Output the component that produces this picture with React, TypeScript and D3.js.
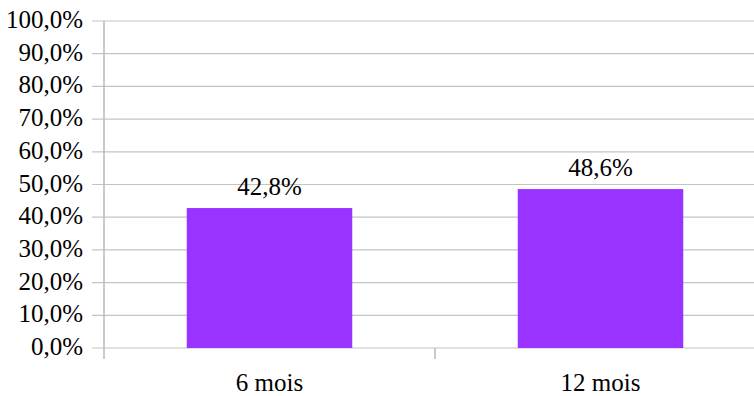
import * as d3 from "d3";
import { useEffect, useRef } from "react";

const categories = ["6 mois", "12 mois"];
const values = [42.8, 48.6];
const yTicks = [0, 10, 20, 30, 40, 50, 60, 70, 80, 90, 100];

const W = 754;
const H = 396;
const margin = { left: 104, top: 21, bottom: 48 };
const plotRight = 766; // category axis runs past the window edge

const fmt = (v: number) => v.toFixed(1).replace(".", ",") + "%";

const FONT = "Liberation Serif";

export default function App() {
  const ref = useRef<SVGSVGElement>(null);

  const x = d3
    .scaleBand<string>()
    .domain(categories)
    .range([margin.left, plotRight])
    .paddingInner(0.5)
    .paddingOuter(0.25);
  const y = d3
    .scaleLinear()
    .domain([0, 100])
    .range([H - margin.bottom, margin.top]);

  const step = x.step();

  useEffect(() => {
    if (!ref.current) return;
    d3.select(ref.current)
      .selectAll("text")
      .style("font-family", FONT, "important");
  }, []);

  return (
    <svg
      ref={ref}
      width={W}
      height={H}
      style={{ position: "absolute", left: 0, top: 0 }}
    >
      <rect width={W} height={H} fill="#fff" />
      {yTicks.map((t) => (
        <line
          key={t}
          x1={92}
          x2={W}
          y1={y(t)}
          y2={y(t)}
          stroke="#c4c4c4"
          strokeWidth={1.2}
        />
      ))}
      <line
        x1={margin.left}
        x2={margin.left}
        y1={y(100)}
        y2={y(0)}
        stroke="#b8b8b8"
        strokeWidth={1.5}
      />
      {[0, 1, 2].map((i) => (
        <line
          key={i}
          x1={margin.left + i * step}
          x2={margin.left + i * step}
          y1={y(0)}
          y2={y(0) + 11}
          stroke="#b8b8b8"
          strokeWidth={1.5}
        />
      ))}
      {categories.map((c, i) => (
        <rect
          key={c}
          x={x(c)}
          y={y(values[i])}
          width={x.bandwidth()}
          height={y(0) - y(values[i])}
          fill="#9933ff"
        />
      ))}
      <g fontSize={25} fill="#000">
        {yTicks.map((t) => (
          <text key={t} x={83} y={y(t) + 7} textAnchor="end">
            {fmt(t)}
          </text>
        ))}
        {categories.map((c, i) => (
          <text
            key={"v" + c}
            x={(x(c) ?? 0) + x.bandwidth() / 2}
            y={y(values[i]) - 13}
            textAnchor="middle"
          >
            {fmt(values[i])}
          </text>
        ))}
        {categories.map((c) => (
          <text
            key={"c" + c}
            x={(x(c) ?? 0) + x.bandwidth() / 2}
            y={391}
            textAnchor="middle"
          >
            {c}
          </text>
        ))}
      </g>
    </svg>
  );
}
